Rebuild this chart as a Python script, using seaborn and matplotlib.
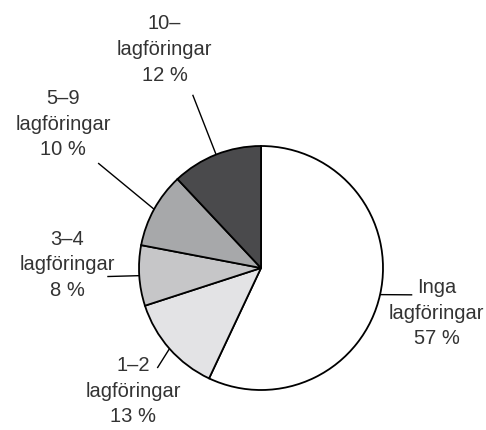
import numpy as np
import matplotlib
matplotlib.use("Agg")
import matplotlib.pyplot as plt
import seaborn as sns

# ==================== data ====================
kategorier = ["Inga\nlagföringar", "1–2\nlagföringar", "3–4\nlagföringar",
              "5–9\nlagföringar", "10–\nlagföringar"]
andel = [57, 13, 8, 10, 12]
farger = ["#ffffff", "#e3e3e5", "#c6c6c8", "#a7a8aa", "#4a4a4c"]

# label placement (data units, pie radius = 1)
etikett_pos = [(1.44, -0.37), (-1.05, -1.01), (-1.59, 0.025), (-1.62, 1.18), (-0.79, 1.79)]
linje_slut = [(1.24, -0.22), (-0.85, -0.82), (-1.26, -0.07), (-1.335, 0.86), (-0.56, 1.42)]

sns.set_theme(style="white")
plt.rcParams['font.family'] = ['Liberation Sans', 'DejaVu Sans']

fig = plt.figure(figsize=(4.86, 4.30), dpi=100)
ax = fig.add_axes([0, 0, 1, 1])

wedges, _ = ax.pie(andel, colors=farger, startangle=90, counterclock=False,
                   radius=1.0, center=(0, 0),
                   wedgeprops=dict(edgecolor="black", linewidth=1.3))

for w, lab, pct, (tx, ty), (lx, ly) in zip(wedges, kategorier, andel, etikett_pos, linje_slut):
    mid = np.deg2rad((w.theta1 + w.theta2) / 2)
    x0, y0 = np.cos(mid), np.sin(mid)
    ax.plot([x0, lx], [y0, ly], color="black", lw=1.0, solid_capstyle="butt")
    ax.text(tx, ty, f"{lab}\n{pct} %", ha="center", va="center",
            fontsize=14.5, color="#333333", linespacing=1.45)

ax.set_xlim(-261 / 122, (486 - 261) / 122)
ax.set_ylim((268 - 430) / 122, 268 / 122)
ax.set_aspect("equal")
ax.axis("off")

fig.savefig("out.png", dpi=100)
